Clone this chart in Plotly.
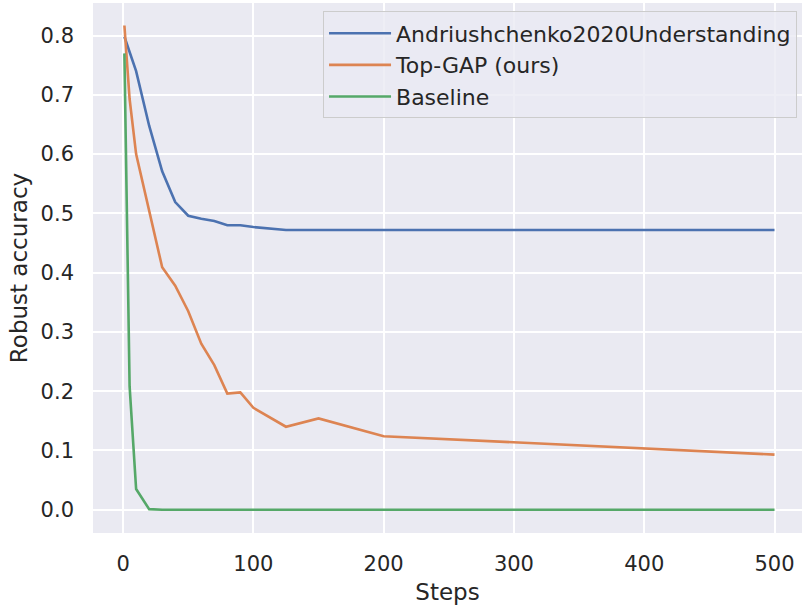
import plotly.graph_objects as go

steps = [1, 5, 10, 20, 30, 40, 50, 60, 70, 80, 90, 100, 125, 150, 200, 500]
andriushchenko = [0.798, 0.772, 0.740, 0.648, 0.571, 0.519, 0.496, 0.491, 0.487, 0.480, 0.480, 0.477, 0.472, 0.472, 0.472, 0.472]
topgap = [0.817, 0.693, 0.600, 0.507, 0.409, 0.378, 0.335, 0.280, 0.244, 0.196, 0.198, 0.172, 0.140, 0.154, 0.124, 0.093]
baseline = [0.770, 0.208, 0.035, 0.001, 0.0, 0.0, 0.0, 0.0, 0.0, 0.0, 0.0, 0.0, 0.0, 0.0, 0.0, 0.0]

names = ["Andriushchenko2020Understanding", "Top-GAP (ours)", "Baseline"]
colors = ["#4C72B0", "#DD8452", "#55A868"]
series = [andriushchenko, topgap, baseline]

x_ticks = [0, 100, 200, 300, 400, 500]
y_ticks = [0.0, 0.1, 0.2, 0.3, 0.4, 0.5, 0.6, 0.7, 0.8]

FONT = "DejaVu Sans"
TXT = "#262626"

fig = go.Figure()
for name, col, ys in zip(names, colors, series):
    fig.add_trace(go.Scatter(x=steps, y=ys, mode="lines", name=name,
                             line=dict(color=col, width=2.6)))

fig.update_layout(
    width=802, height=606,
    margin=dict(l=93, r=0, t=3, b=73),
    paper_bgcolor="white",
    plot_bgcolor="#EAEAF2",
    font=dict(family=FONT, color=TXT, size=21),
    showlegend=True,
    legend=dict(
        x=0.993, y=0.984, xanchor="right", yanchor="top",
        bgcolor="rgba(234,234,242,0.8)", bordercolor="#CCCCCC", borderwidth=1,
        font=dict(family=FONT, size=22, color=TXT),
        itemwidth=62,
    ),
    xaxis=dict(
        range=[-23.1, 521.1], tickvals=x_ticks,
        showgrid=True, gridcolor="white", gridwidth=1.8,
        zeroline=False, showline=False, ticks="",
        tickfont=dict(family=FONT, size=21, color=TXT),
        ticklabelstandoff=16,
        title=dict(text="Steps", font=dict(family=FONT, size=23, color=TXT), standoff=8),
    ),
    yaxis=dict(
        range=[-0.0393, 0.855], tickvals=y_ticks, tickformat=".1f",
        showgrid=True, gridcolor="white", gridwidth=1.8,
        zeroline=False, showline=False, ticks="",
        tickfont=dict(family=FONT, size=21, color=TXT),
        ticklabelstandoff=18,
        title=dict(text="Robust accuracy", font=dict(family=FONT, size=23, color=TXT), standoff=6),
    ),
)

fig.write_html("out.html")
